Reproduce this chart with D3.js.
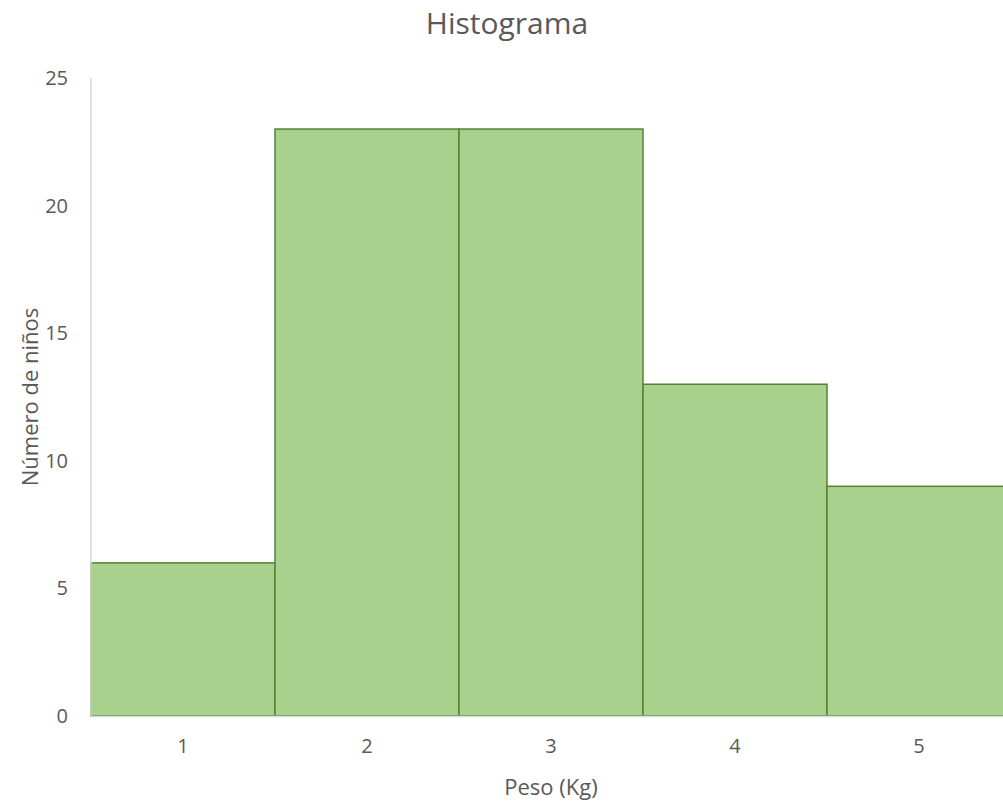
<!DOCTYPE html>
<html><head><meta charset="utf-8">
<script src="https://cdn.jsdelivr.net/npm/d3@7"></script>
<style>body{margin:0;background:#fff}svg{display:block}text{font-family:"Open Sans",sans-serif}</style>
</head><body><svg id="c" width="1003" height="805"></svg>
<script>
const categories = ["1","2","3","4","5"];
const counts = [6, 23, 23, 13, 9];
const yTicks = [0,5,10,15,20,25];
const title = "Histograma";
const xTitle = "Peso (Kg)";
const yTitle = "Número de niños";

const svg = d3.select("#c");
const L = 91, R = 1011, T = 78, B = 716;
const x = d3.scaleBand().domain(categories).range([L, R]).padding(0);
const y = d3.scaleLinear().domain([0, 25]).range([B, T]);

svg.append("text").attr("x", 507).attr("y", 34).attr("text-anchor","middle")
  .attr("font-size", 30).attr("fill", "#595959").text(title);

svg.selectAll("rect.bar").data(counts).join("rect").attr("class","bar")
  .attr("x", (d,i)=>x(categories[i])).attr("width", x.bandwidth())
  .attr("y", d=>y(d)).attr("height", d=>B - y(d))
  .attr("fill", "#a9d18e").attr("stroke", "#548235").attr("stroke-width", 1.5);

svg.append("line").attr("x1", L).attr("x2", L).attr("y1", T).attr("y2", B)
  .attr("stroke", "#d9d9d9").attr("stroke-width", 1.5);
svg.append("line").attr("x1", L).attr("x2", 1003).attr("y1", B+0.5).attr("y2", B+0.5)
  .attr("stroke", "#d9d9d9").attr("stroke-width", 1.5);

const yAxis = svg.append("g").attr("transform", `translate(${L},0)`)
  .call(d3.axisLeft(y).tickValues(yTicks).tickSize(0).tickPadding(23));
yAxis.select(".domain").remove();
yAxis.selectAll("text").attr("font-size", 20).attr("fill", "#595959").attr("font-family", '"Open Sans",sans-serif');

const xAxis = svg.append("g").attr("transform", `translate(0,${B})`)
  .call(d3.axisBottom(x).tickSize(0).tickPadding(22.5));
xAxis.select(".domain").remove();
xAxis.selectAll("text").attr("font-size", 20).attr("fill", "#595959").attr("font-family", '"Open Sans",sans-serif');

svg.append("text").attr("x", 551).attr("y", 795).attr("text-anchor","middle")
  .attr("font-size", 22).attr("fill", "#595959").text(xTitle);
svg.append("text").attr("transform", "translate(38,397) rotate(-90)").attr("text-anchor","middle")
  .attr("font-size", 22).attr("fill", "#595959").text(yTitle);
</script></body></html>
